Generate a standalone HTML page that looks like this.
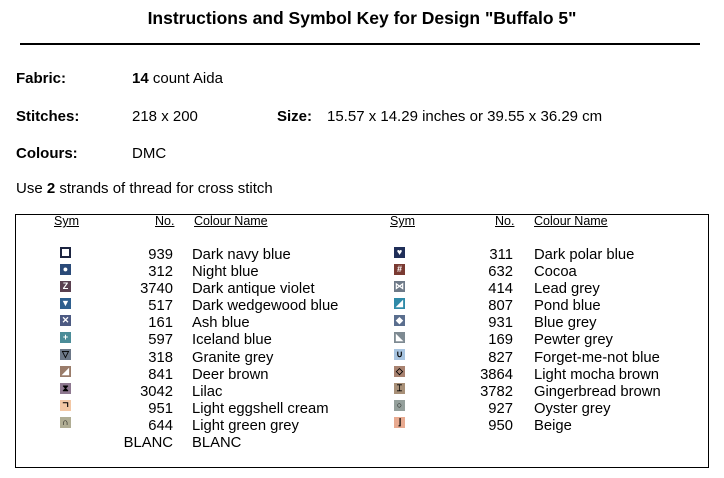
<!DOCTYPE html>
<html><head><meta charset="utf-8"><style>
body{margin:0;width:724px;height:478px;background:#fff;font-family:"Liberation Sans",Arial,sans-serif;color:#000;position:relative;overflow:hidden}
.a{position:absolute;white-space:nowrap}
.t{font-size:15px}
.h{font-size:12.5px;text-decoration:underline}
.r{font-size:14.8px;line-height:17.1px}
.s{position:absolute;width:11px;height:11px;color:#fff;font-size:9px;font-weight:bold;line-height:11px;text-align:center}
</style></head><body>
<div class="a" style="left:0;width:724px;text-align:center;top:8px;font-size:17.5px;font-weight:bold">Instructions and Symbol Key for Design "Buffalo 5"</div>
<div class="a" style="left:20px;top:43px;width:680px;height:2px;background:#000"></div>
<div class="a t" style="left:16px;top:70px;font-weight:bold">Fabric:</div>
<div class="a t" style="left:132px;top:70px"><b>14</b> count Aida</div>
<div class="a t" style="left:16px;top:108px;font-weight:bold">Stitches:</div>
<div class="a t" style="left:132px;top:108px">218 x 200</div>
<div class="a t" style="left:277px;top:108px;font-weight:bold">Size:</div>
<div class="a t" style="left:327px;top:108px">15.57 x 14.29 inches or 39.55 x 36.29 cm</div>
<div class="a t" style="left:16px;top:145px;font-weight:bold">Colours:</div>
<div class="a t" style="left:132px;top:145px">DMC</div>
<div class="a t" style="left:16px;top:180px">Use <b>2</b> strands of thread for cross stitch</div>
<div class="a" style="left:15px;top:214px;width:692px;height:252px;border:1px solid #000"></div>

<div class="a h" style="left:54px;top:214px">Sym</div>
<div class="a h" style="left:155px;top:214px">No.</div>
<div class="a h" style="left:194px;top:214px">Colour Name</div>
<div class="a h" style="left:390px;top:214px">Sym</div>
<div class="a h" style="left:495px;top:214px">No.</div>
<div class="a h" style="left:534px;top:214px">Colour Name</div>

<div class="a r" style="left:100px;top:247px;width:73px;text-align:right">939<br>312<br>3740<br>517<br>161<br>597<br>318<br>841<br>3042<br>951<br>644<br>BLANC</div>
<div class="a r" style="left:192px;top:247px">Dark navy blue<br>Night blue<br>Dark antique violet<br>Dark wedgewood blue<br>Ash blue<br>Iceland blue<br>Granite grey<br>Deer brown<br>Lilac<br>Light eggshell cream<br>Light green grey<br>BLANC</div>
<div class="a r" style="left:440px;top:247px;width:73px;text-align:right">311<br>632<br>414<br>807<br>931<br>169<br>827<br>3864<br>3782<br>927<br>950</div>
<div class="a r" style="left:534px;top:247px">Dark polar blue<br>Cocoa<br>Lead grey<br>Pond blue<br>Blue grey<br>Pewter grey<br>Forget-me-not blue<br>Light mocha brown<br>Gingerbread brown<br>Oyster grey<br>Beige</div>

<div class="s" style="left:60px;top:247px;background:#1c2440"><div style="margin:2px;width:7px;height:7px;background:#fff"></div></div>
<div class="s" style="left:60px;top:264px;background:#2a4a78">●</div>
<div class="s" style="left:60px;top:281px;background:#5a4050">Z</div>
<div class="s" style="left:60px;top:298px;background:#2e5f8e">▼</div>
<div class="s" style="left:60px;top:315px;background:#4c5a82">✕</div>
<div class="s" style="left:60px;top:332px;background:#4a8c98">+</div>
<div class="s" style="left:60px;top:349px;background:#6c7888;color:#000">▽</div>
<div class="s" style="left:60px;top:366px;background:#9a7c6a">◢</div>
<div class="s" style="left:60px;top:383px;background:#8e7890;color:#000">⧗</div>
<div class="s" style="left:60px;top:400px;background:#f3c7a4;color:#000">ㄱ</div>
<div class="s" style="left:60px;top:417px;background:#b0ad94;color:#000">∩</div>

<div class="s" style="left:394px;top:247px;background:#1f2e58">♥</div>
<div class="s" style="left:394px;top:264px;background:#7a3a32">#</div>
<div class="s" style="left:394px;top:281px;background:#6e7a88">⋈</div>
<div class="s" style="left:394px;top:298px;background:#2f8aa8">◢</div>
<div class="s" style="left:394px;top:315px;background:#5a6e8e">◆</div>
<div class="s" style="left:394px;top:332px;background:#7e8a92">◣</div>
<div class="s" style="left:394px;top:349px;background:#a8c4e0;color:#000">∪</div>
<div class="s" style="left:394px;top:366px;background:#a88270;color:#000">◇</div>
<div class="s" style="left:394px;top:383px;background:#a89078;color:#000">⌶</div>
<div class="s" style="left:394px;top:400px;background:#95a09c;color:#000">○</div>
<div class="s" style="left:394px;top:417px;background:#e8aa90;color:#000">⌋</div>
</body></html>
